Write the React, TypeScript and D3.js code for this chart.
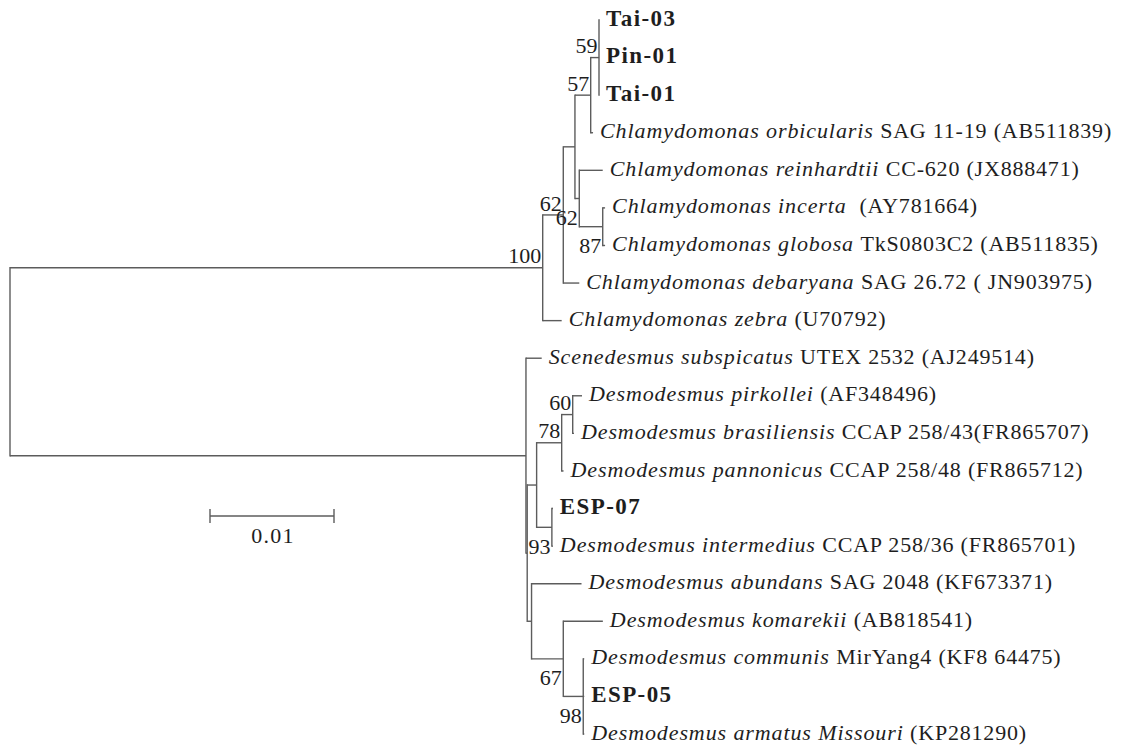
import React, { useEffect, useRef } from 'react';
import * as d3 from 'd3';

// tree topology (branch lengths in substitutions/site)
const nodeIds = [
  'root', 'n100', 'n62a', 'n575', 'n57', 'n59', 'Tai-03', 'Pin-01', 'Tai-01', 'orbicularis',
  'n62b', 'reinhardtii', 'n87', 'incerta', 'globosa', 'debaryana', 'zebra',
  'nLow', 'subspicatus', 'nD', 'nE', 'n78', 'n60', 'pirkollei', 'brasiliensis', 'pannonicus',
  'n93', 'ESP-07', 'intermedius', 'nAb', 'abundans', 'n67', 'komarekii', 'n98',
  'communis', 'ESP-05', 'armatus',
];
const nodeParents = [
  '', 'root', 'n100', 'n62a', 'n575', 'n57', 'n59', 'n59', 'n59', 'n57',
  'n575', 'n62b', 'n62b', 'n87', 'n87', 'n62a', 'n100',
  'root', 'nLow', 'nLow', 'nD', 'nE', 'n78', 'n60', 'n60', 'n78',
  'nE', 'n93', 'n93', 'nD', 'nAb', 'nAb', 'n67', 'n67',
  'n98', 'n98', 'n98',
];
const branchLengths = [
  0, 0.04296, 0.00166, 0.00094, 0.00127, 0.00067, 0.00001, 0.00001, 0.00001, 0.00019,
  0.00035, 0.00189, 0.00189, 0.00019, 0.00019, 0.00129, 0.00153,
  0.04161, 0.00127, 0.0001, 0.00076, 0.00202, 0.00089, 0.00075, 0.0001, 0.00015,
  0.00123, 0.00008, 0.00008, 0.00035, 0.00403, 0.00256, 0.00319, 0.00161,
  0.00008, 0.00008, 0.00008,
];
const bootstrap = [
  null, 100, 62, null, 57, 59, null, null, null, null,
  62, null, 87, null, null, null, null,
  null, null, null, null, 78, 60, null, null, null,
  93, null, null, null, null, 67, null, 98,
  null, null, null,
];

// leaves top to bottom
const leafIds = [
  'Tai-03', 'Pin-01', 'Tai-01', 'orbicularis', 'reinhardtii', 'incerta', 'globosa',
  'debaryana', 'zebra', 'subspicatus', 'pirkollei', 'brasiliensis', 'pannonicus',
  'ESP-07', 'intermedius', 'abundans', 'komarekii', 'communis', 'ESP-05', 'armatus',
];
const leafItalic = [
  '', '', '', 'Chlamydomonas orbicularis', 'Chlamydomonas reinhardtii', 'Chlamydomonas incerta',
  'Chlamydomonas globosa', 'Chlamydomonas debaryana', 'Chlamydomonas zebra',
  'Scenedesmus subspicatus', 'Desmodesmus pirkollei', 'Desmodesmus brasiliensis',
  'Desmodesmus pannonicus', '', 'Desmodesmus intermedius', 'Desmodesmus abundans',
  'Desmodesmus komarekii', 'Desmodesmus communis', '', 'Desmodesmus armatus Missouri',
];
const leafPlain = [
  'Tai-03', 'Pin-01', 'Tai-01', 'SAG 11-19 (AB511839)', 'CC-620 (JX888471)', '\u00a0(AY781664)',
  'TkS0803C2 (AB511835)', 'SAG 26.72 ( JN903975)', '(U70792)',
  'UTEX 2532 (AJ249514)', '(AF348496)', 'CCAP 258/43(FR865707)',
  'CCAP 258/48 (FR865712)', 'ESP-07', 'CCAP 258/36 (FR865701)', 'SAG 2048 (KF673371)',
  '(AB818541)', 'MirYang4 (KF8 64475)', 'ESP-05', '(KP281290)',
];
const isolates = ['Tai-03', 'Pin-01', 'Tai-01', 'ESP-07', 'ESP-05'];

const scaleBarValue = 0.01;

const WIDTH = 1125;
const HEIGHT = 749;
const FONT = '"Liberation Serif", "Times New Roman", serif';
const LINE = '#5c5c5c';
const INK = '#1e1e1e';

const App = () => {
  const ref = useRef<SVGSVGElement>(null);

  useEffect(() => {
    const svg = d3.select(ref.current);
    svg.selectAll('*').remove();

    const rows = nodeIds.map((id, i) => ({
      id, parent: nodeParents[i], length: branchLengths[i], support: bootstrap[i],
    }));
    const root: any = d3.stratify<any>().id((d) => d.id).parentId((d) => d.parent)(rows);

    const xScale = d3.scaleLinear().domain([0, scaleBarValue]).range([10, 134]);
    const yScale = d3.scalePoint<string>().domain(leafIds).range([20, 734]);

    root.eachBefore((n: any) => {
      n.dist = n.parent ? n.parent.dist + n.data.length : 0;
    });
    root.eachAfter((n: any) => {
      n.yy = n.children
        ? (n.children[0].yy + n.children[n.children.length - 1].yy) / 2
        : yScale(n.id);
    });

    const g = svg.append('g');

    // horizontal branches
    g.selectAll('.hbranch')
      .data(root.descendants().filter((n: any) => n.parent))
      .enter()
      .append('line')
      .attr('x1', (n: any) => xScale(n.parent.dist))
      .attr('x2', (n: any) => xScale(n.dist))
      .attr('y1', (n: any) => n.yy)
      .attr('y2', (n: any) => n.yy)
      .attr('stroke', LINE)
      .attr('stroke-width', 1.4);

    // vertical connectors
    g.selectAll('.vbranch')
      .data(root.descendants().filter((n: any) => n.children))
      .enter()
      .append('line')
      .attr('x1', (n: any) => xScale(n.dist))
      .attr('x2', (n: any) => xScale(n.dist))
      .attr('y1', (n: any) => n.children[0].yy - 0.7)
      .attr('y2', (n: any) => n.children[n.children.length - 1].yy + 0.7)
      .attr('stroke', LINE)
      .attr('stroke-width', 1.4);

    // bootstrap values: above the branch for the upper child, below for the lower one
    g.selectAll('.support')
      .data(root.descendants().filter((n: any) => n.data.support != null))
      .enter()
      .append('text')
      .attr('x', (n: any) => xScale(n.dist) - 1.5)
      .attr('y', (n: any) => (n.parent.children[0] === n ? n.yy - 12 : n.yy + 18.5))
      .attr('dy', '0.35em')
      .attr('text-anchor', 'end')
      .attr('font-family', FONT)
      .attr('font-size', 22)
      .attr('fill', INK)
      .text((n: any) => n.data.support);

    // leaf labels
    const leaves = root.leaves();
    const labels = g.selectAll('.leaf')
      .data(leaves)
      .enter()
      .append('text')
      .attr('x', (n: any) => xScale(n.dist) + 7)
      .attr('y', (n: any) => n.yy)
      .attr('dy', '0.35em')
      .attr('font-family', FONT)
      .attr('fill', INK);

    labels.each(function (n: any) {
      const i = leafIds.indexOf(n.id);
      const t = d3.select(this);
      if (isolates.includes(n.id)) {
        t.append('tspan')
          .attr('font-size', 23)
          .attr('font-weight', 'bold')
          .attr('letter-spacing', 1.4)
          .text(leafPlain[i]);
        return;
      }
      t.append('tspan')
        .attr('font-size', 22)
        .attr('font-style', 'italic')
        .attr('letter-spacing', 0.9)
        .text(leafItalic[i] + ' ');
      t.append('tspan')
        .attr('font-size', 22)
        .attr('letter-spacing', 0.8)
        .text(leafPlain[i]);
    });

    // scale bar
    const barX = 210;
    const barY = 516;
    const barLen = xScale(scaleBarValue) - xScale(0);
    const bar = g.append('g');
    bar.append('line')
      .attr('x1', barX).attr('x2', barX + barLen)
      .attr('y1', barY).attr('y2', barY)
      .attr('stroke', LINE).attr('stroke-width', 1.4);
    [barX, barX + barLen].forEach((bx) => {
      bar.append('line')
        .attr('x1', bx).attr('x2', bx)
        .attr('y1', barY - 7).attr('y2', barY + 7)
        .attr('stroke', LINE).attr('stroke-width', 1.4);
    });
    bar.append('text')
      .attr('x', barX + barLen / 2 + 1)
      .attr('y', barY + 19)
      .attr('dy', '0.35em')
      .attr('text-anchor', 'middle')
      .attr('font-family', FONT)
      .attr('font-size', 22)
      .attr('letter-spacing', 1.2)
      .attr('fill', INK)
      .text(String(scaleBarValue));
  }, []);

  return (
    <svg
      ref={ref}
      width={WIDTH}
      height={HEIGHT}
      style={{ position: 'absolute', left: 0, top: 0, background: '#fff' }}
    />
  );
};

export default App;
